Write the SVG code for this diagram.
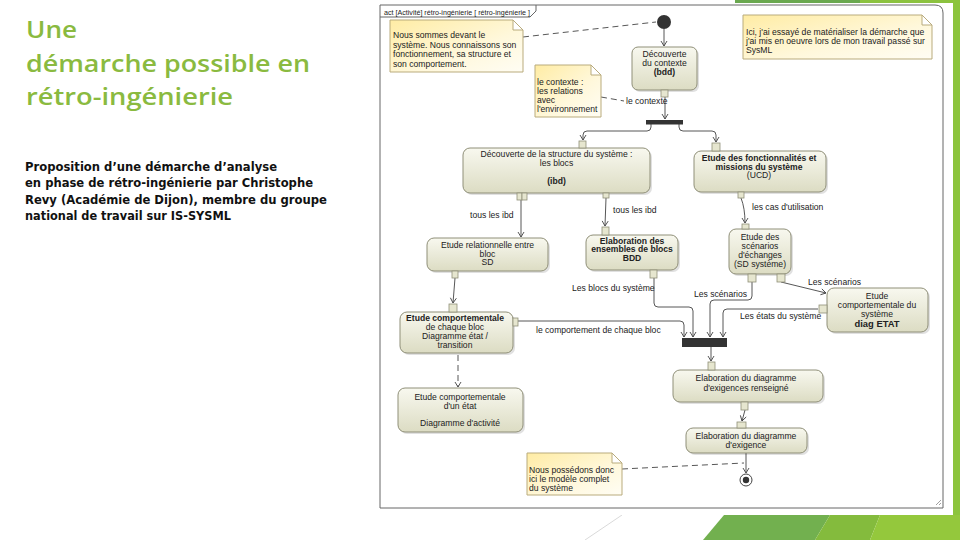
<svg xmlns="http://www.w3.org/2000/svg" width="960" height="540" viewBox="0 0 960 540">
<defs>
<linearGradient id="gAct" x1="0" y1="0" x2="0" y2="1"><stop offset="0" stop-color="#f8f8ef"/><stop offset="1" stop-color="#dcdcc3"/></linearGradient>
<linearGradient id="gNote" x1="0" y1="0" x2="1" y2="1"><stop offset="0" stop-color="#ffeca4"/><stop offset="0.6" stop-color="#fff8dc"/><stop offset="1" stop-color="#fffdf4"/></linearGradient>
<marker id="arr" markerWidth="8" markerHeight="8" refX="6" refY="4" orient="auto" markerUnits="userSpaceOnUse"><path d="M1,1 L6,4 L1,7" fill="none" stroke="#444" stroke-width="0.9"/></marker>
<style>
.act{fill:url(#gAct);stroke:#8f8f78;stroke-width:1}
.shadow{fill:#000;opacity:0.12}
.note{fill:url(#gNote);stroke:#b9ab7c;stroke-width:1}
.fold{fill:#fff;stroke:#b9ab7c;stroke-width:1}
.pin{fill:#e6e6cf;stroke:#8f8f78;stroke-width:0.8}
.t{font-family:"Liberation Sans",Arial,sans-serif;font-size:8.6px;fill:#222}
.tm{text-anchor:middle}
.b{font-weight:bold}
.lbl{font-family:"Liberation Sans",Arial,sans-serif;font-size:8.6px;fill:#222}
.edge{fill:none;stroke:#444;stroke-width:0.9}
.dash{fill:none;stroke:#444;stroke-width:0.9;stroke-dasharray:6,4}
.title{font-family:"Open Sans","Liberation Sans",sans-serif;font-size:24px;font-weight:600;fill:#8aba40}
.sub{font-family:"DejaVu Sans","Liberation Sans",sans-serif;font-size:11.5px;font-weight:bold;fill:#111}
</style>
</defs>
<rect x="0" y="0" width="960" height="540" fill="#fff"/>
<!-- slide decoration -->
<g id="decor">
<rect x="735" y="0" width="125" height="6" fill="#6aa84f"/>
<rect x="860" y="0" width="100" height="6" fill="#8cc23f"/>
<rect x="949" y="0" width="11" height="540" fill="#8cc43c"/>
<polygon points="703,540 724,515 830,515 815,540" fill="#72b04f"/>
<polygon points="815,540 830,515 880,515 870,540" fill="#84bb3d"/>
<polygon points="870,540 880,515 960,515 960,540" fill="#94c83c"/>
<line x1="585" y1="540" x2="622" y2="515" stroke="#cfcfcf" stroke-width="0.8"/>
</g>
<!-- title -->
<g id="title">
<text class="title" x="26" y="38" textLength="51" lengthAdjust="spacingAndGlyphs">Une</text>
<text class="title" x="26" y="72" textLength="284" lengthAdjust="spacingAndGlyphs">démarche possible en</text>
<text class="title" x="26" y="105" textLength="207" lengthAdjust="spacingAndGlyphs">rétro-ingénierie</text>
<text class="sub" x="25" y="171" textLength="252" lengthAdjust="spacingAndGlyphs">Proposition d’une démarche d’analyse</text>
<text class="sub" x="25" y="187" textLength="288" lengthAdjust="spacingAndGlyphs">en phase de rétro-ingénierie par Christophe</text>
<text class="sub" x="25" y="204" textLength="302" lengthAdjust="spacingAndGlyphs">Revy (Académie de Dijon), membre du groupe</text>
<text class="sub" x="25" y="220" textLength="206" lengthAdjust="spacingAndGlyphs">national de travail sur IS-SYSML</text>
</g>
<!-- diagram frame -->
<g id="frame">
<rect x="378" y="3" width="575" height="512" fill="#fff"/>
<path d="M380,5 L935,5 Q943,5 943,13 L943,508 L380,508 Z" fill="#fff" stroke="#666" stroke-width="1"/>
<path d="M380,17 L530,17 L536,11 L536,5" fill="none" stroke="#666" stroke-width="1"/>
<text class="t" x="384" y="14.5" style="font-size:8px" textLength="146" lengthAdjust="spacingAndGlyphs">act [Activité] rétro-ingénierie [ rétro-ingénierie ]</text>
<path d="M936,505 L941,500 M939,505 L941,503" stroke="#888" stroke-width="0.8"/>
</g>
<!-- connectors -->
<g id="connectors">
<path class="dash" d="M523,37 L656,22"/>
<path class="edge" d="M664,29 L664,46" marker-end="url(#arr)"/>
<path class="edge" d="M665,97 L665,119" marker-end="url(#arr)"/>
<path class="dash" d="M601,97 L624,101"/>
<path class="edge" d="M651,124 L651,127 Q651,131 647,131 L587,131 Q583,131 583,135 L583,140" marker-end="url(#arr)"/>
<path class="edge" d="M679,124 L679,127 Q679,131 683,131 L712,131 Q716,131 716,135 L716,142" marker-end="url(#arr)"/>
<path class="edge" d="M521,200 L521,237" marker-end="url(#arr)"/>
<path class="edge" d="M606,198 L605,226" marker-end="url(#arr)"/>
<path class="edge" d="M741,198 Q745,208 745,223" marker-end="url(#arr)"/>
<path class="edge" d="M455,278 L453,303" marker-end="url(#arr)"/>
<path class="dash" d="M458,355 L458,387" marker-end="url(#arr)"/>
<path class="edge" d="M654,278 L654,303 Q654,307 658,307 L689,307 Q693,307 693,311 L693,337" marker-end="url(#arr)"/>
<path class="edge" d="M518,321 L680,321 Q684,321 684,325 L684,337" marker-end="url(#arr)"/>
<path class="edge" d="M752,282 L752,296 Q752,300 748,300 L714,300 Q710,300 710,304 L710,337" marker-end="url(#arr)"/>
<path class="edge" d="M781,282 L826,293" marker-end="url(#arr)"/>
<path class="edge" d="M818,309 L727,309 Q723,309 723,313 L723,337" marker-end="url(#arr)"/>
<path class="edge" d="M711,347 L711,361" marker-end="url(#arr)"/>
<path class="edge" d="M745,410 L742,421" marker-end="url(#arr)"/>
<path class="edge" d="M746,453 L746,473" marker-end="url(#arr)"/>
<path class="dash" d="M622,469 L744,463"/>
<text class="lbl" x="626" y="104">le contexte</text>
<text class="lbl" x="470" y="218">tous les ibd</text>
<text class="lbl" x="613" y="213">tous les ibd</text>
<text class="lbl" x="752" y="210">les cas d'utilisation</text>
<text class="lbl" x="572" y="291">Les blocs du système</text>
<text class="lbl" x="536" y="333">le comportement de chaque bloc</text>
<text class="lbl" x="694" y="297">Les scénarios</text>
<text class="lbl" x="808" y="285">Les scénarios</text>
<text class="lbl" x="740" y="319">Les états du système</text>
</g>
<!-- initial / final / bars -->
<g id="initial"><circle cx="664" cy="22" r="7" fill="#333"/></g>
<g id="fork"><rect x="646" y="120" width="37" height="4.5" fill="#333"/></g>
<g id="join"><rect x="682" y="338" width="45" height="9" fill="#333"/></g>
<g id="final"><circle cx="746" cy="480" r="6" fill="#fff" stroke="#444" stroke-width="1"/><circle cx="746" cy="480" r="3.2" fill="#333"/></g>
<!-- notes -->
<g id="note1">
<path class="note" d="M390,20 L513,20 L523,30 L523,72 L390,72 Z"/><path class="fold" d="M513,20 L513,30 L523,30 Z"/>
<text class="t" x="393" y="38">Nous sommes devant le</text>
<text class="t" x="393" y="47.5">système. Nous connaissons son</text>
<text class="t" x="393" y="57">fonctionnement, sa structure et</text>
<text class="t" x="393" y="66.5">son comportement.</text>
</g>
<g id="note2">
<path class="note" d="M743,15 L922,15 L932,25 L932,59 L743,59 Z"/><path class="fold" d="M922,15 L922,25 L932,25 Z"/>
<text class="t" x="746" y="35">Ici, j'ai essayé de matérialiser la démarche que</text>
<text class="t" x="746" y="44">j'ai mis en oeuvre lors de mon travail passé sur</text>
<text class="t" x="746" y="53">SysML</text>
</g>
<g id="note3">
<path class="note" d="M535,65 L591,65 L601,75 L601,117 L535,117 Z"/><path class="fold" d="M591,65 L591,75 L601,75 Z"/>
<text class="t" x="537" y="85">le contexte :</text>
<text class="t" x="537" y="94">les relations</text>
<text class="t" x="537" y="103">avec</text>
<text class="t" x="537" y="112">l'environnement</text>
</g>
<g id="note4">
<path class="note" d="M527,453 L612,453 L622,463 L622,495 L527,495 Z"/><path class="fold" d="M612,453 L612,463 L622,463 Z"/>
<text class="t" x="529" y="473">Nous possédons donc</text>
<text class="t" x="529" y="482">ici le modèle complet</text>
<text class="t" x="529" y="491">du système</text>
</g>
<!-- actions -->
<g id="a_contexte">
<rect class="shadow" x="634" y="49" width="65" height="43" rx="6"/>
<rect class="act" x="632" y="47" width="65" height="43" rx="6"/>
<rect class="pin" x="661" y="90" width="7" height="7"/>
<text class="t tm" x="664.5" y="57">Découverte</text>
<text class="t tm" x="664.5" y="66">du contexte</text>
<text class="t tm b" x="664.5" y="75">(bdd)</text>
</g>
<g id="a_structure">
<rect class="shadow" x="465" y="150" width="187" height="45" rx="7"/>
<rect class="act" x="463" y="148" width="187" height="45" rx="7"/>
<rect class="pin" x="579" y="141" width="7" height="7"/>
<rect class="pin" x="517" y="193" width="5" height="7"/><rect class="pin" x="522" y="193" width="5" height="7"/>
<rect class="pin" x="603" y="193" width="6" height="5"/>
<text class="t tm" x="556.5" y="157">Découverte de la structure du système :</text>
<text class="t tm" x="556.5" y="166">les blocs</text>
<text class="t tm b" x="556.5" y="184">(ibd)</text>
</g>
<g id="a_ucd">
<rect class="shadow" x="696" y="153" width="132" height="41" rx="7"/>
<rect class="act" x="694" y="151" width="132" height="41" rx="7"/>
<rect class="pin" x="712" y="143" width="8" height="8"/>
<rect class="pin" x="738" y="192" width="6" height="6"/>
<text class="t tm b" x="759" y="161">Etude des fonctionnalités et</text>
<text class="t tm b" x="759" y="169.5">missions du système</text>
<text class="t tm" x="759" y="178">(UCD)</text>
</g>
<g id="a_sd">
<rect class="shadow" x="429" y="240" width="121" height="33" rx="7"/>
<rect class="act" x="427" y="238" width="121" height="33" rx="7"/>
<rect class="pin" x="452" y="271" width="6" height="7"/>
<text class="t tm" x="487.5" y="248">Etude relationnelle entre</text>
<text class="t tm" x="487.5" y="256.5">bloc</text>
<text class="t tm" x="487.5" y="265">SD</text>
</g>
<g id="a_bdd">
<rect class="shadow" x="588" y="237" width="92" height="35" rx="7"/>
<rect class="act" x="586" y="235" width="92" height="35" rx="7"/>
<rect class="pin" x="602" y="227" width="7" height="8"/>
<rect class="pin" x="650" y="270" width="7" height="8"/>
<text class="t tm b" x="632" y="243.5">Elaboration des</text>
<text class="t tm b" x="632" y="252">ensembles de blocs</text>
<text class="t tm b" x="632" y="260.5">BDD</text>
</g>
<g id="a_scenarios">
<rect class="shadow" x="731" y="231" width="62" height="45" rx="7"/>
<rect class="act" x="729" y="229" width="62" height="45" rx="7"/>
<rect class="pin" x="742" y="224" width="7" height="5"/>
<rect class="pin" x="748" y="274" width="8" height="8"/>
<rect class="pin" x="777" y="274" width="8" height="8"/>
<text class="t tm" x="760" y="239.5">Etude des</text>
<text class="t tm" x="760" y="248.5">scénarios</text>
<text class="t tm" x="760" y="257.5">d'échanges</text>
<text class="t tm" x="760" y="266.5">(SD système)</text>
</g>
<g id="a_etat">
<rect class="shadow" x="829" y="290" width="101" height="44" rx="7"/>
<rect class="act" x="827" y="288" width="101" height="44" rx="7"/>
<rect class="pin" x="819" y="305" width="8" height="8"/>
<text class="t tm" x="877" y="299">Etude</text>
<text class="t tm" x="877" y="308">comportementale du</text>
<text class="t tm" x="877" y="317">système</text>
<text class="t tm b" x="877" y="327" style="font-size:9.4px">diag ETAT</text>
</g>
<g id="a_bloc">
<rect class="shadow" x="402" y="314" width="113" height="41" rx="7"/>
<rect class="act" x="400" y="312" width="113" height="41" rx="7"/>
<rect class="pin" x="449" y="304" width="8" height="8"/>
<rect class="pin" x="513" y="318" width="5" height="8"/>
<text class="t tm b" x="455" y="320.5">Etude comportementale</text>
<text class="t tm" x="455" y="329.5">de chaque bloc</text>
<text class="t tm" x="455" y="338.5">Diagramme état /</text>
<text class="t tm" x="455" y="347.5">transition</text>
</g>
<g id="a_etat_unique">
<rect class="shadow" x="400" y="390" width="125" height="44" rx="7"/>
<rect class="act" x="398" y="388" width="125" height="44" rx="7"/>
<text class="t tm" x="460" y="399.5">Etude comportementale</text>
<text class="t tm" x="460" y="409">d'un état</text>
<text class="t tm" x="460" y="426">Diagramme d'activité</text>
</g>
<g id="a_exig_renseigne">
<rect class="shadow" x="675" y="372" width="150" height="32" rx="7"/>
<rect class="act" x="673" y="370" width="150" height="32" rx="7"/>
<rect class="pin" x="708" y="362" width="7" height="8"/>
<rect class="pin" x="741" y="402" width="7" height="8"/>
<text class="t tm" x="746" y="381">Elaboration du diagramme</text>
<text class="t tm" x="746" y="390.5">d'exigences renseigné</text>
</g>
<g id="a_exig">
<rect class="shadow" x="688" y="430" width="121" height="25" rx="7"/>
<rect class="act" x="686" y="428" width="121" height="25" rx="7"/>
<rect class="pin" x="737" y="422" width="9" height="6"/>
<text class="t tm" x="746" y="438.5">Elaboration du diagramme</text>
<text class="t tm" x="746" y="448">d'exigence</text>
</g>
</svg>
